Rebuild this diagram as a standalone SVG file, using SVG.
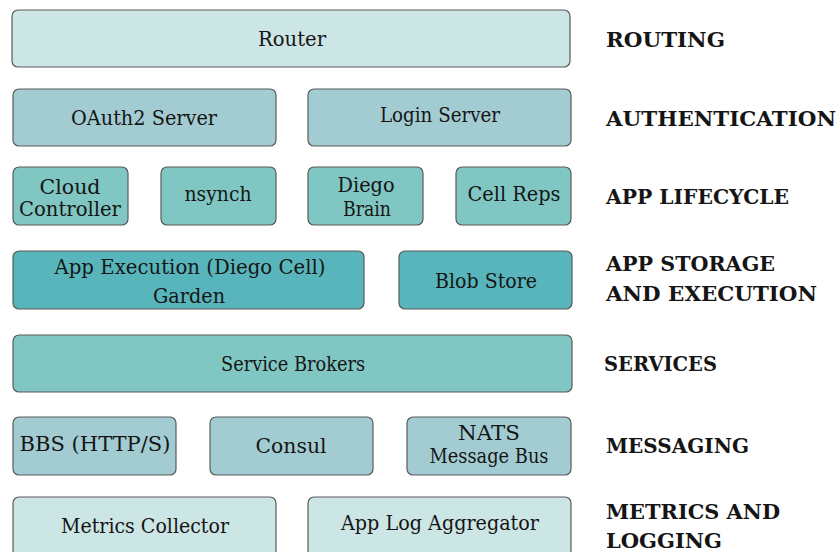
<svg xmlns="http://www.w3.org/2000/svg" width="840" height="552" viewBox="0 0 840 552">
<style>
.b{stroke:#5a5a5a;stroke-width:1.2}
.c1{fill:#cce5e5}.c2{fill:#a2ccd2}.c3{fill:#80c6c2}.c4{fill:#58b5bb}
text{font-family:'DejaVu Serif','Liberation Serif',serif;fill:#151515}
.t{font-size:20px;text-anchor:middle}
.h{font-size:21px;font-weight:bold}
</style>
<rect width="840" height="552" fill="#fff"/>
<g id="router"><rect class="b c1" x="12" y="10" width="558" height="57" rx="6"/><text class="t" x="292" y="46" textLength="68" lengthAdjust="spacingAndGlyphs">Router</text></g>
<g id="oauth2"><rect class="b c2" x="13" y="89" width="263" height="57" rx="6"/><text class="t" x="144" y="125" textLength="146" lengthAdjust="spacingAndGlyphs">OAuth2 Server</text></g>
<g id="login"><rect class="b c2" x="308" y="89" width="263" height="57" rx="6"/><text class="t" x="440" y="122" textLength="120" lengthAdjust="spacingAndGlyphs">Login Server</text></g>
<g id="cloudcontroller"><rect class="b c3" x="13" y="167" width="115" height="58" rx="6"/><text class="t" x="70" y="194" textLength="61" lengthAdjust="spacingAndGlyphs">Cloud</text><text class="t" x="70" y="216" textLength="102" lengthAdjust="spacingAndGlyphs">Controller</text></g>
<g id="nsynch"><rect class="b c3" x="161" y="167" width="115" height="58" rx="6"/><text class="t" x="218" y="201" textLength="67" lengthAdjust="spacingAndGlyphs">nsynch</text></g>
<g id="diegobrain"><rect class="b c3" x="308" y="167" width="115" height="58" rx="6"/><text class="t" x="366" y="192" textLength="57" lengthAdjust="spacingAndGlyphs">Diego</text><text class="t" x="367" y="216" textLength="48" lengthAdjust="spacingAndGlyphs">Brain</text></g>
<g id="cellreps"><rect class="b c3" x="456" y="167" width="115" height="58" rx="6"/><text class="t" x="514" y="201" textLength="93" lengthAdjust="spacingAndGlyphs">Cell Reps</text></g>
<g id="appexec"><rect class="b c4" x="13" y="251" width="351" height="58" rx="6"/><text class="t" x="190" y="274" textLength="271" lengthAdjust="spacingAndGlyphs">App Execution (Diego Cell)</text><text class="t" x="189" y="303" textLength="72" lengthAdjust="spacingAndGlyphs">Garden</text></g>
<g id="blobstore"><rect class="b c4" x="399" y="251" width="173" height="58" rx="6"/><text class="t" x="486" y="288" textLength="102" lengthAdjust="spacingAndGlyphs">Blob Store</text></g>
<g id="servicebrokers"><rect class="b c3" x="13" y="335" width="559" height="57" rx="6"/><text class="t" x="293" y="371" textLength="144" lengthAdjust="spacingAndGlyphs">Service Brokers</text></g>
<g id="bbs"><rect class="b c2" x="13" y="417" width="163" height="58" rx="6"/><text class="t" x="95" y="451" textLength="151" lengthAdjust="spacingAndGlyphs">BBS (HTTP/S)</text></g>
<g id="consul"><rect class="b c2" x="210" y="417" width="163" height="58" rx="6"/><text class="t" x="291" y="453" textLength="71" lengthAdjust="spacingAndGlyphs">Consul</text></g>
<g id="nats"><rect class="b c2" x="407" y="417" width="164" height="58" rx="6"/><text class="t" x="489" y="440" textLength="62" lengthAdjust="spacingAndGlyphs">NATS</text><text class="t" x="489" y="463" textLength="119" lengthAdjust="spacingAndGlyphs">Message Bus</text></g>
<g id="metricscollector"><rect class="b c1" x="13" y="497" width="263" height="60" rx="6"/><text class="t" x="145" y="533" textLength="168" lengthAdjust="spacingAndGlyphs">Metrics Collector</text></g>
<g id="applog"><rect class="b c1" x="308" y="497" width="263" height="60" rx="6"/><text class="t" x="440" y="530" textLength="198" lengthAdjust="spacingAndGlyphs">App Log Aggregator</text></g>
<g id="connectors"></g>
<g id="labels">
<text class="h" x="606" y="47" textLength="119" lengthAdjust="spacingAndGlyphs">ROUTING</text>
<text class="h" x="606" y="126" textLength="230" lengthAdjust="spacingAndGlyphs">AUTHENTICATION</text>
<text class="h" x="606" y="204" textLength="183" lengthAdjust="spacingAndGlyphs">APP LIFECYCLE</text>
<text class="h" x="606" y="271" textLength="169" lengthAdjust="spacingAndGlyphs">APP STORAGE</text>
<text class="h" x="606" y="301" textLength="211" lengthAdjust="spacingAndGlyphs">AND EXECUTION</text>
<text class="h" x="604" y="371" textLength="113" lengthAdjust="spacingAndGlyphs">SERVICES</text>
<text class="h" x="606" y="453" textLength="143" lengthAdjust="spacingAndGlyphs">MESSAGING</text>
<text class="h" x="606" y="519" textLength="174" lengthAdjust="spacingAndGlyphs">METRICS AND</text>
<text class="h" x="606" y="548" textLength="116" lengthAdjust="spacingAndGlyphs">LOGGING</text>
</g>
</svg>
